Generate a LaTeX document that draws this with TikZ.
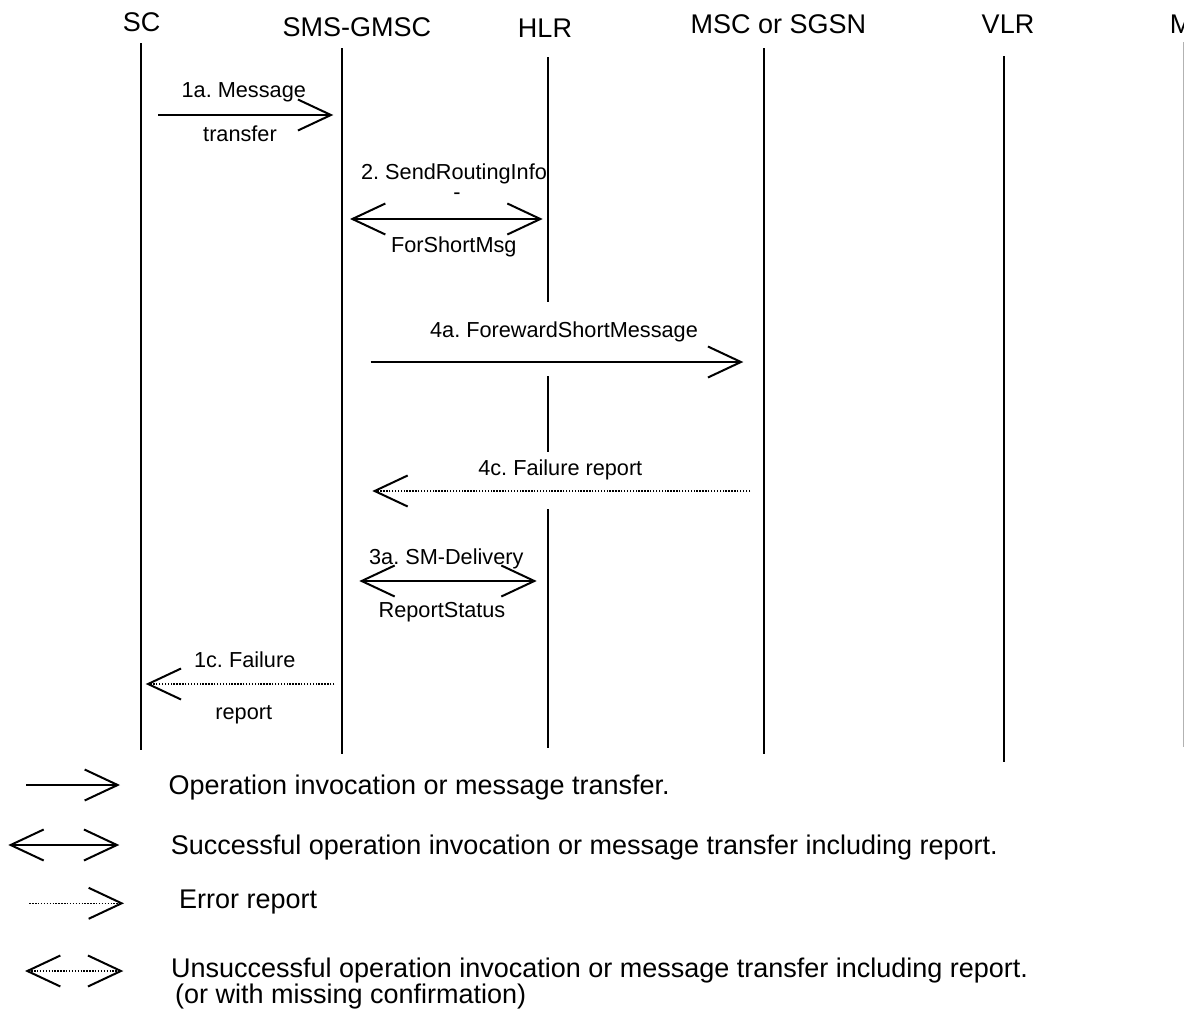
\documentclass[tikz,border=0pt]{standalone}
\usepackage{fontspec}
\setmainfont{Liberation Sans}
\usetikzlibrary{arrows.meta, positioning}
\frenchspacing

\begin{document}
\begin{tikzpicture}[x=1pt, y=-1pt,
    head/.style={anchor=base, inner sep=0pt, font=\fontsize{27}{27}\selectfont},
    lbl/.style={anchor=base, inner sep=0pt, font=\fontsize{21.7}{22}\selectfont},
    leg/.style={anchor=base west, inner sep=0pt, font=\fontsize{27}{27}\selectfont},
    life/.style={line width=2pt},
    barb/.tip={Straight Barb[length=33pt, width=31pt, line width=2pt]},
    msg/.style={line width=2pt, -barb},
    msgboth/.style={line width=2pt, barb-barb},
    err/.style={line width=1.5pt, dash pattern=on 1.4pt off 1.5pt, -barb},
    errboth/.style={line width=1.5pt, dash pattern=on 1.4pt off 1.5pt, barb-barb}]
    \useasboundingbox (0,0) rectangle (1184,1017);
    \clip (0,0) rectangle (1184,1017);

    \node[head] (sc) at (141.7,31.7) {SC};
    \node[head] (gmsc) at (356.8,36.7) {SMS-GMSC};
    \node[head] (hlr) at (545,37.3) {HLR};
    \node[head] (msc) at (778.3,33.3) {MSC or SGSN};
    \node[head] (vlr) at (1008,34) {VLR};
    \node[head] (ms) at (1190,33.3) {MS};

    \coordinate (sc-t) at (140.7,43);   \coordinate (sc-b) at (140.7,750);
    \coordinate (gmsc-t) at (342.3,48); \coordinate (gmsc-b) at (342.3,754);
    \coordinate (hlr-t) at (547.7,57);  \coordinate (hlr-b) at (547.7,748);
    \coordinate (hlr-1) at (547.7,302); \coordinate (hlr-2) at (547.7,376);
    \coordinate (hlr-3) at (547.7,452); \coordinate (hlr-4) at (547.7,509);
    \coordinate (msc-t) at (763.8,48);  \coordinate (msc-b) at (763.8,754);
    \coordinate (vlr-t) at (1004,56);   \coordinate (vlr-b) at (1004,762);
    \coordinate (ms-t) at (1183.3,42);  \coordinate (ms-b) at (1183.3,747);

    \draw[life] (sc-t) -- (sc-b);
    \draw[life] (gmsc-t) -- (gmsc-b);
    \draw[life] (hlr-t) -- (hlr-1) (hlr-2) -- (hlr-3) (hlr-4) -- (hlr-b);
    \draw[life] (msc-t) -- (msc-b);
    \draw[life] (vlr-t) -- (vlr-b);
    \draw[gray!60, line width=1pt] (ms-t) -- (ms-b);

    \coordinate (m1a-s) at (158.3,115); \coordinate (m1a-e) at (333.3,115);
    \coordinate (m2-s) at (350,219);    \coordinate (m2-e) at (542.7,219);
    \coordinate (m4a-s) at (370.7,362); \coordinate (m4a-e) at (743.3,362);
    \coordinate (m4c-s) at (750,491);   \coordinate (m4c-e) at (372.3,491);
    \coordinate (m3a-s) at (359.3,581); \coordinate (m3a-e) at (536.7,581);
    \coordinate (m1c-s) at (334.3,684); \coordinate (m1c-e) at (145.7,684);

    \draw[msg] (m1a-s) -- (m1a-e);
    \node[lbl] (l1a) at (243.8,97.3) {1a. Message};
    \node[lbl] (l1b) at (240,141.7) {transfer};

    \draw[msgboth] (m2-s) -- (m2-e);
    \node[lbl] (l2a) at (454,179.3) {2. SendRoutingInfo};
    \node[lbl] (l2b) at (457,199.5) {-};
    \node[lbl] (l2c) at (453.8,252.7) {ForShortMsg};

    \draw[msg] (m4a-s) -- (m4a-e);
    \node[lbl] (l4a) at (564,337.3) {4a. ForewardShortMessage};

    \draw[err] (m4c-s) -- (m4c-e);
    \node[lbl] (l4c) at (560.3,475) {4c. Failure report};

    \draw[msgboth] (m3a-s) -- (m3a-e);
    \node[lbl] (l3a) at (446.3,564) {3a. SM-Delivery};
    \node[lbl] (l3b) at (442,617) {ReportStatus};

    \draw[err] (m1c-s) -- (m1c-e);
    \node[lbl] (l1c) at (244.7,667.3) {1c. Failure};
    \node[lbl] (l1d) at (243.8,719) {report};

    \coordinate (k1-s) at (26,785);    \coordinate (k1-e) at (120,785);
    \coordinate (k2-s) at (8.3,845);   \coordinate (k2-e) at (119.3,845);
    \coordinate (k3-s) at (29.3,903.3); \coordinate (k3-e) at (124,903.3);
    \coordinate (k4-s) at (25,971);    \coordinate (k4-e) at (123.3,971);

    \draw[msg] (k1-s) -- (k1-e);
    \node[leg] (t1) at (168.3,794.5) {Operation invocation or message transfer.};
    \draw[msgboth] (k2-s) -- (k2-e);
    \node[leg] (t2) at (170.7,854.3) {Successful operation invocation or message transfer including report.};
    \draw[err] (k3-s) -- (k3-e);
    \node[leg] (t3) at (179,908.3) {Error report};
    \draw[errboth] (k4-s) -- (k4-e);
    \node[leg] (t4) at (171,977) {Unsuccessful operation invocation or message transfer including report.};
    \node[leg] (t5) at (175,1003) {(or with missing confirmation)};
\end{tikzpicture}
\end{document}
